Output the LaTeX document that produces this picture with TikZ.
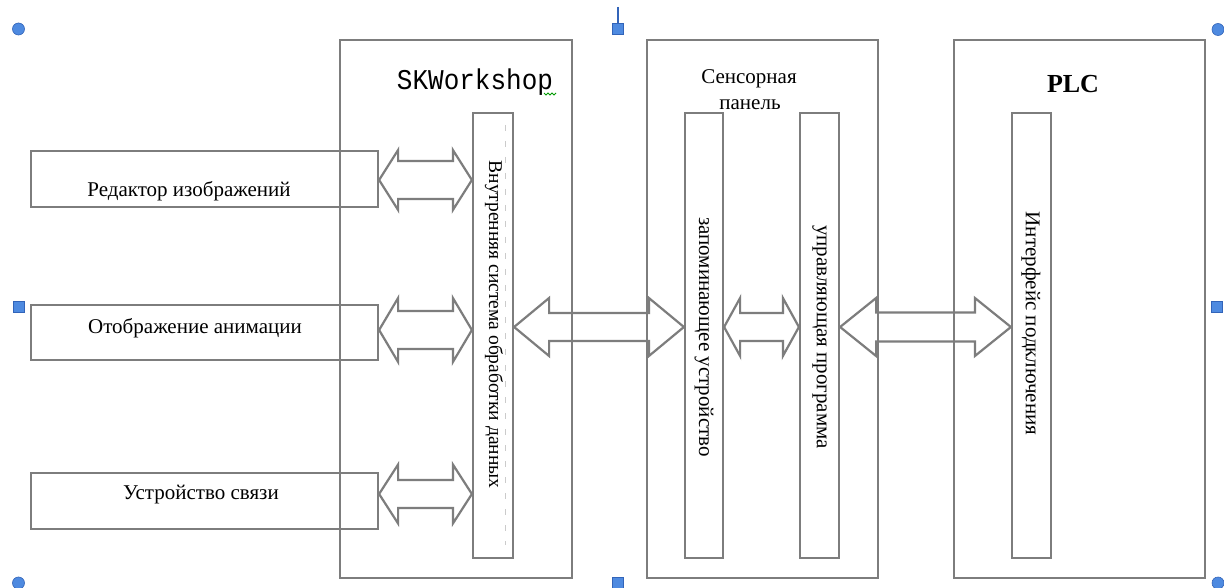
\documentclass[tikz,border=0pt]{standalone}
\usepackage{fontspec}
\setmainfont{Liberation Serif}
\newfontfamily\monof{Liberation Mono}
\usetikzlibrary{calc}
\definecolor{ln}{RGB}{125,125,125}
\definecolor{hb}{RGB}{78,138,224}
\definecolor{hbd}{RGB}{50,100,185}
\tikzset{
  box/.style={draw=ln, line width=2.2pt, inner sep=0pt},
  arrowline/.style={draw=ln, line width=2.2pt, line join=miter},
  htext/.style={font=\fontsize{21}{25}\selectfont, inner sep=0pt, anchor=base},
  vtext/.style={font=\fontsize{21}{25}\selectfont, inner sep=0pt, rotate=-90},
  handle/.style={fill=hb, draw=hbd, line width=0.6pt},
}
\newcommand\dblarr[5]{%
  \draw[arrowline] let \p1=#1, \p2=#2 in
    (\x1,\y1) -- (\x1+#5pt,\y1+#3pt) -- (\x1+#5pt,\y1+#4pt) -- (\x2-#5pt,\y1+#4pt)
    -- (\x2-#5pt,\y1+#3pt) -- (\x2,\y1) -- (\x2-#5pt,\y1-#3pt) -- (\x2-#5pt,\y1-#4pt)
    -- (\x1+#5pt,\y1-#4pt) -- (\x1+#5pt,\y1-#3pt) -- cycle;}
\begin{document}
\begin{tikzpicture}[x=1pt,y=-1pt]
\useasboundingbox[fill=white] (0,0) rectangle (1224,588);

% big boxes
\node[box, minimum width=232pt, minimum height=538pt] (sk)  at (456,309) {};
\node[box, minimum width=231pt, minimum height=538pt] (tp)  at (762.5,309) {};
\node[box, minimum width=251pt, minimum height=538pt] (plc) at (1079.5,309) {};

% inner tall boxes
\node[box, minimum width=40pt, minimum height=445pt] (r1) at (493,335.5) {};
\node[box, minimum width=38pt, minimum height=445pt] (r2) at (704,335.5) {};
\node[box, minimum width=39pt, minimum height=445pt] (r3) at (819.5,335.5) {};
\node[box, minimum width=39pt, minimum height=445pt] (r4) at (1031.5,335.5) {};

% faint formatting line in r1
\draw[ln!40, line width=1pt, dash pattern=on 6pt off 10pt] (505,125) -- (505,545);

% left boxes
\node[box, minimum width=347pt, minimum height=56pt] (ed) at (204.5,179) {};
\node[box, minimum width=347pt, minimum height=55pt] (an) at (204.5,332.5) {};
\node[box, minimum width=347pt, minimum height=56pt] (sv) at (204.5,501) {};

% titles
\node[font=\monof\fontsize{26}{30}\selectfont, inner sep=0pt, anchor=base, yscale=1.1] (skt) at (475,90) {SKWorkshop};
\draw[green!60!black, line width=0.8pt] (544,93) -- (546,95) -- (548,93) -- (550,95) -- (552,93) -- (554,95) -- (556,93);
\node[htext] (tpt1) at (749,84) {Сенсорная};
\node[htext] (tpt2) at (750,110) {панель};
\node[font=\bfseries\fontsize{26}{30}\selectfont, inner sep=0pt] (plct) at (1073,84) {PLC};

% left box labels
\node[htext] (edt) at (189,197) {Редактор изображений};
\node[htext] (ant) at (195,333) {Отображение анимации};
\node[htext] (svt) at (201,499) {Устройство связи};

% vertical labels
\node[vtext, font=\fontsize{19.5}{24}\selectfont] (r1t) at (494,324.5) {Внутренняя система обработки данных};
\node[vtext] (r2t) at (704,337) {запоминающее устройство};
\node[vtext] (r3t) at (819.5,337) {управляющая программа};
\node[vtext] (r4t) at (1031,323.5) {Интерфейс подключения};

% arrow levels
\coordinate (ya1) at (0,180);
\coordinate (ya2) at (0,330);
\coordinate (ya3) at (0,494);
\coordinate (ym)  at (0,327);

% double arrows
\dblarr{(ed.east |- ya1)}{(r1.west |- ya1)}{30}{19}{19}
\dblarr{(an.east |- ya2)}{(r1.west |- ya2)}{32}{19}{19}
\dblarr{(sv.east |- ya3)}{(r1.west |- ya3)}{29.5}{14}{19}
\dblarr{(r1.east |- ym)}{(r2.west |- ym)}{29}{14}{35}
\dblarr{(r2.east |- ym)}{(r3.west |- ym)}{29}{14}{16}
\dblarr{(r3.east |- ym)}{(r4.west |- ym)}{29}{14.5}{36}

% selection handles
\draw[hbd, line width=1.2pt] (618,7) -- (618,23);
\foreach \p in {(18.5,29),(1218,29.5),(18.5,583),(1218,583)}
  \filldraw[handle] \p circle (6pt);
\foreach \p in {(618,28.5),(18.5,307),(1217,307),(618,583)}
  \filldraw[handle] \p ++(-5.5,-5.5) rectangle ++(11,11);
\end{tikzpicture}
\end{document}
